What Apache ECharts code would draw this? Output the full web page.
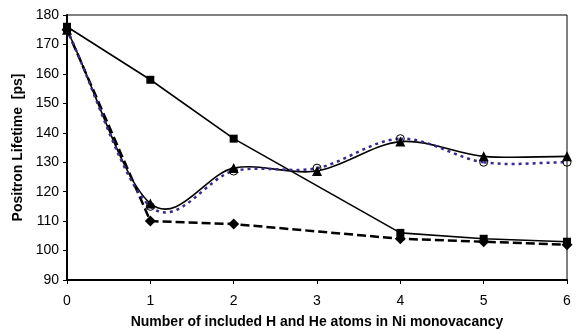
<!DOCTYPE html>
<html>
<head>
<meta charset="utf-8">
<script src="https://cdn.jsdelivr.net/npm/echarts@6/dist/echarts.min.js"></script>
<style>html,body{margin:0;padding:0;background:#fff}#c{width:578px;height:330px}</style>
</head>
<body>
<div id="c"></div>
<script>
const squareX = [0, 1, 2, 4, 5, 6];
const squareY = [176, 158, 138, 106, 104, 103];
const diamondX = [0, 1, 2, 4, 5, 6];
const diamondY = [175, 110, 109, 104, 103, 102];
const triangleX = [0, 1, 2, 3, 4, 5, 6];
const triangleY = [175, 116, 128, 127, 137, 132, 132];
const circleX = [0, 1, 2, 3, 4, 5, 6];
const circleY = [175, 115, 127, 128, 138, 130, 130];
const xTicks = [0, 1, 2, 3, 4, 5, 6];
const yTicks = [90, 100, 110, 120, 130, 140, 150, 160, 170, 180];

const pairs = (xs, ys) => xs.map((x, i) => [x, ys[i]]);
const font = 'Liberation Sans, Arial, sans-serif';

// Excel-like smoothed line (Catmull-Rom Bezier segments), positions from the axes via api.coord
function smoothCurve(xs, ys, style, z) {
  return {
    type: 'custom', data: pairs(xs, ys), silent: true, z: z,
    encode: { x: 0, y: 1 },
    renderItem: function (params, api) {
      const i = params.dataIndex;
      if (i >= xs.length - 1) return null;
      const P = k => api.coord([xs[k], ys[k]]);
      const a = P(i), b = P(i + 1);
      const prev = i > 0 ? P(i - 1) : null;
      const next = i + 2 < xs.length ? P(i + 2) : null;
      const t0 = prev ? [(b[0] - prev[0]) / 6, (b[1] - prev[1]) / 6] : [(b[0] - a[0]) / 3, (b[1] - a[1]) / 3];
      const t1 = next ? [(next[0] - a[0]) / 6, (next[1] - a[1]) / 6] : [(b[0] - a[0]) / 3, (b[1] - a[1]) / 3];
      return {
        type: 'bezierCurve',
        shape: { x1: a[0], y1: a[1], x2: b[0], y2: b[1],
                 cpx1: a[0] + t0[0], cpy1: a[1] + t0[1], cpx2: b[0] - t1[0], cpy2: b[1] - t1[1] },
        style: Object.assign({ fill: 'none' }, style)
      };
    }
  };
}

const chart = echarts.init(document.getElementById('c'));
chart.setOption({
  animation: false,
  grid: { left: 67, right: 11, top: 15, bottom: 50, show: true, borderColor: '#000', borderWidth: 1, containLabel: false, outerBoundsMode: 'none' },
  xAxis: {
    type: 'value', min: xTicks[0], max: xTicks[xTicks.length - 1], interval: 1,
    name: 'Number of included H and He atoms in Ni monovacancy',
    nameLocation: 'middle', nameGap: 35,
    nameTextStyle: { fontFamily: font, fontSize: 14, fontWeight: 'bold', color: '#000' },
    axisLine: { lineStyle: { color: '#000', width: 2 } },
    axisTick: { show: true, inside: false, length: 4, lineStyle: { color: '#000' } },
    axisLabel: { fontFamily: font, fontSize: 14, color: '#000', margin: 14 },
    splitLine: { show: false }
  },
  yAxis: {
    type: 'value', min: yTicks[0], max: yTicks[yTicks.length - 1], interval: 10,
    name: 'Positron Lifetime  [ps]',
    nameLocation: 'middle', nameGap: 42,
    nameTextStyle: { fontFamily: font, fontSize: 14, fontWeight: 'bold', color: '#000' },
    axisLine: { lineStyle: { color: '#000', width: 2 } },
    axisTick: { show: true, inside: false, length: 4, lineStyle: { color: '#000' } },
    axisLabel: { fontFamily: font, fontSize: 14, color: '#000', margin: 8 },
    splitLine: { show: false }
  },
  series: [
    {
      type: 'line', data: pairs(squareX, squareY),
      symbol: 'rect', symbolSize: 8,
      itemStyle: { color: '#000' },
      lineStyle: { color: '#000', width: 1.6 }, z: 3
    },
    smoothCurve(triangleX, triangleY, { stroke: '#000', lineWidth: 1.6 }, 3),
    smoothCurve(circleX, circleY, { stroke: '#3a2a8c', lineWidth: 2.5, lineDash: [3, 4] }, 4),
    {
      type: 'line', data: pairs(triangleX, triangleY),
      symbol: 'triangle', symbolSize: 10,
      itemStyle: { color: '#000' },
      lineStyle: { opacity: 0 }, z: 5
    },
    {
      type: 'line', data: pairs(circleX, circleY),
      symbol: 'circle', symbolSize: 8,
      itemStyle: { color: 'rgba(255,255,255,0)', borderColor: '#000', borderWidth: 1 },
      lineStyle: { opacity: 0 }, z: 6
    },
    {
      type: 'line', data: pairs(diamondX, diamondY),
      symbol: 'diamond', symbolSize: 11,
      itemStyle: { color: '#000' },
      lineStyle: { color: '#000', width: 2.5, type: [9, 4] }, z: 3
    }
  ]
});
</script>
</body>
</html>
